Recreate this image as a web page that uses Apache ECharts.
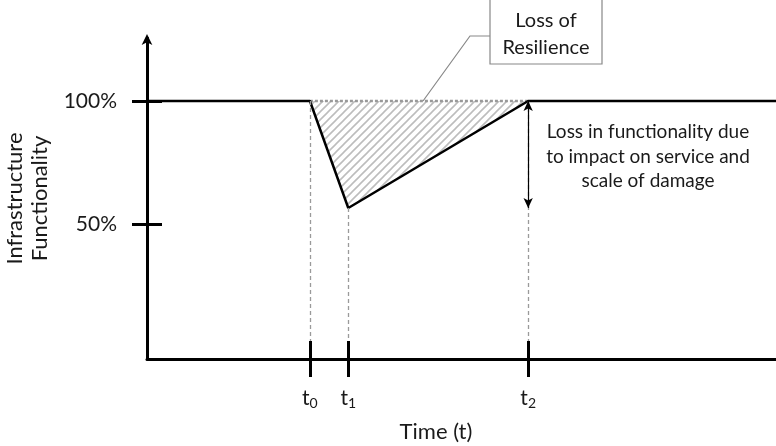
<!DOCTYPE html>
<html>
<head>
<meta charset="utf-8">
<script src="https://cdn.jsdelivr.net/npm/echarts@6/dist/echarts.min.js"></script>
<style>html,body{margin:0;padding:0;background:#fff;}#c{width:776px;height:446px;}</style>
</head>
<body>
<div id="c"></div>
<script>
// ---- data ----
const tickX = [25.9, 32.0, 60.6];          // t0, t1, t2 (time units)
const tickSub = ['0', '1', '2'];
const funcX = [0, 25.9, 32.0, 60.6, 100];   // functionality curve
const funcY = [100, 100, 56.5, 100, 100];
const lossX = [25.9, 32.0, 60.6];           // loss-of-resilience triangle
const lossY = [100, 56.5, 100];
const yTicks = [50, 100];
const yTickLabels = ['50%', '100%'];
const annotLines = ['Loss in functionality due', 'to impact on service and', 'scale of damage'];

const FONT = 'Lato';
const TXT = '#1a1a1a';
const yMin = -4.9, yMax = 125.6;

// hatch pattern
const pc = document.createElement('canvas');
pc.width = 8; pc.height = 8;
const g = pc.getContext('2d');
g.strokeStyle = '#bdbdbd'; g.lineWidth = 1.6;
g.beginPath();
g.moveTo(-2, 10); g.lineTo(10, -2);
g.moveTo(-2, 2); g.lineTo(2, -2);
g.moveTo(6, 10); g.lineTo(10, 6);
g.stroke();

const chart = echarts.init(document.getElementById('c'));

const option = {
  animation: false,
  grid: { left: 147, right: 0, top: 38, bottom: 87, containLabel: false, outerBoundsMode: 'none' },
  xAxis: [{
    type: 'value', min: 0, max: 100, z: 5, position: 'bottom',
    axisLine: { show: true, onZero: false, lineStyle: { color: '#000', width: 3 } },
    splitLine: { show: false },
    axisTick: { show: true, length: 18, customValues: tickX, lineStyle: { color: '#000', width: 3 } },
    axisLabel: {
      show: true, customValues: tickX, margin: 27,
      formatter: function (v) { const i = tickX.indexOf(v); return i < 0 ? '' : 't{s|' + tickSub[i] + '}'; },
      color: TXT, fontFamily: FONT, fontSize: 21,
      rich: { s: { fontSize: 14, fontFamily: FONT, color: TXT, padding: [10, 0, 0, 0] } }
    }
  }, {
    type: 'value', min: 0, max: 100, position: 'bottom', z: 5,
    axisLine: { show: false, onZero: false }, splitLine: { show: false }, axisLabel: { show: false },
    axisTick: { show: true, inside: true, length: 18, customValues: tickX, lineStyle: { color: '#000', width: 3 } }
  }],
  yAxis: [{
    type: 'value', min: yMin, max: yMax, z: 5, position: 'left',
    axisLine: { show: true, onZero: false, symbol: ['none', 'arrow'], symbolSize: [8, 11], symbolOffset: [0, 4], lineStyle: { color: '#000', width: 3 } },
    splitLine: { show: false },
    axisTick: { show: true, length: 15, customValues: yTicks, lineStyle: { color: '#000', width: 3 } },
    axisLabel: {
      show: true, customValues: yTicks, margin: 30,
      formatter: function (v) { const i = yTicks.indexOf(v); return i < 0 ? '' : yTickLabels[i]; },
      color: TXT, fontFamily: FONT, fontSize: 21
    },
    name: 'Infrastructure\nFunctionality', nameLocation: 'middle', nameRotate: 90, nameGap: 85,
    nameTextStyle: { color: TXT, fontFamily: FONT, fontSize: 22, lineHeight: 25 }
  }, {
    type: 'value', min: yMin, max: yMax, position: 'left', z: 5,
    axisLine: { show: false, onZero: false }, splitLine: { show: false }, axisLabel: { show: false },
    axisTick: { show: true, inside: true, length: 15, customValues: yTicks, lineStyle: { color: '#000', width: 3 } }
  }],
  series: [
    {
      type: 'custom', z: 1,
      data: [0],
      renderItem: function (params, api) {
        const pts = lossX.map((x, i) => api.coord([x, lossY[i]]));
        return { type: 'polygon', shape: { points: pts }, style: { fill: { image: pc, repeat: 'repeat' }, stroke: null } };
      },
      silent: true
    },
    {
      type: 'line', z: 2, data: [], silent: true,
      markLine: {
        silent: true, symbol: ['none', 'none'], animation: false,
        label: { show: false },
        lineStyle: { color: '#9a9a9a', width: 1.3, type: [4, 3] },
        data: tickX.map((x, i) => [{ coord: [x, i === 1 ? lossY[1] : 100] }, { coord: [x, yMin] }])
      }
    },
    {
      type: 'line', z: 3, data: lossX.filter((x, i) => lossY[i] === 100).map(x => [x, 100]),
      symbol: 'none', silent: true,
      lineStyle: { color: '#999', width: 2.5, type: [3, 2] }
    },
    {
      type: 'line', z: 4, data: funcX.map((x, i) => [x, funcY[i]]),
      symbol: 'none', silent: true,
      lineStyle: { color: '#000', width: 2.5 },
      markLine: {
        silent: true, symbol: ['arrow', 'arrow'], symbolSize: [7, 10], animation: false,
        label: { show: false },
        lineStyle: { color: '#000', width: 1.2, type: 'solid' },
        data: [[{ coord: [tickX[2], 100] }, { coord: [tickX[2], lossY[1]] }]]
      }
    }
  ],
  graphic: [
    { type: 'text', x: 436, y: 432, style: { text: 'Time (t)', fontFamily: FONT, fontSize: 22, fill: TXT, align: 'center', verticalAlign: 'middle' } },
    { type: 'text', x: 648, y: 120, style: { text: annotLines.join('\n'), fontFamily: FONT, fontSize: 19, lineHeight: 24.5, fill: TXT, align: 'center', verticalAlign: 'top' } },
    { type: 'rect', shape: { x: 490, y: -4, width: 112, height: 68 }, style: { fill: '#fff', stroke: '#888', lineWidth: 1.2 } },
    { type: 'text', x: 546, y: 34, style: { text: 'Loss of\nResilience', fontFamily: FONT, fontSize: 20, lineHeight: 27, fill: TXT, align: 'center', verticalAlign: 'middle' } },
    { type: 'polyline', shape: { points: [[490, 36], [470, 36], [423, 101]] }, style: { stroke: '#888', lineWidth: 1.2, fill: null }, z: 10 }
  ]
};
chart.setOption(option);
</script>
</body>
</html>
